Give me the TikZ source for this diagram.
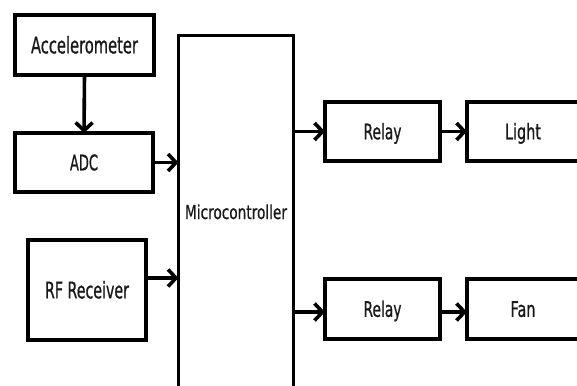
\documentclass[tikz,border=0pt]{standalone}
\usepackage{fontspec}
\usepackage{graphicx}
\setmainfont[FakeBold=0.9]{DejaVu Sans}
\usetikzlibrary{arrows.meta}
\newcommand{\fittext}[3]{{\fontsize{#2}{#2}\selectfont\smash{\resizebox{#1}{\height}{#3}}\rule{0pt}{0.729em}}}
\begin{document}
\begin{tikzpicture}[x=1pt,y=-1pt,
  blk/.style={draw=black,line width=3.6pt,inner sep=0pt,outer sep=0pt,fill=white,text=black!90},
  arr/.style={line width=3.6pt,-{Straight Barb[length=8pt,width=17pt]}}]
\useasboundingbox (0,0) rectangle (577,385);
\clip (0,0) rectangle (577,385);
\node[blk,minimum width=139pt,minimum height=60pt] (acc) at (84.5,45) {\fittext{107pt}{23pt}{Accelerometer}};
\node[blk,minimum width=138pt,minimum height=59pt] (adc) at (84,162.5) {\fittext{28pt}{21.5pt}{ADC}};
\node[blk,minimum width=118pt,minimum height=100pt] (rf) at (87,290) {\fittext{84pt}{23pt}{RF Receiver}};
\node[blk,line width=2.8pt,minimum width=115pt,minimum height=353pt] (mc) at (236,212) {\fittext{102pt}{19.2pt}{Microcontroller}};
\node[blk,minimum width=115pt,minimum height=59pt] (r1) at (382.5,131.5) {\fittext{38pt}{21.5pt}{Relay}};
\node[blk,minimum width=112pt,minimum height=59pt] (light) at (523,131.5) {\fittext{36pt}{21.5pt}{Light}};
\node[blk,minimum width=115pt,minimum height=60pt] (r2) at (382.5,309) {\fittext{38pt}{21.5pt}{Relay}};
\node[blk,minimum width=112pt,minimum height=60pt] (fan) at (523,309) {\fittext{25pt}{21.5pt}{Fan}};
\coordinate (rfo) at ([yshift=12pt]rf.east);
\coordinate (r2i) at ([yshift=-3pt]r2.west);
\coordinate (r2o) at ([yshift=-3pt]r2.east);
\draw[arr] (acc.south) -- (adc.north);
\draw[arr] (adc.east) -- (adc.east -| mc.west);
\draw[arr] (rfo) -- (rfo -| mc.west);
\draw[arr] (mc.east |- r1.west) -- (r1.west);
\draw[arr] (r1) -- (light);
\draw[arr] (mc.east |- r2i) -- (r2i);
\draw[arr] (r2o) -- (r2o -| fan.west);
\end{tikzpicture}
\end{document}
